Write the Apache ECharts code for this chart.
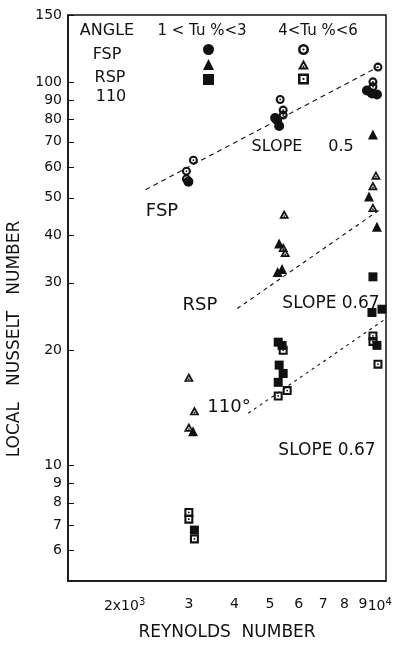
<!DOCTYPE html>
<html>
<head>
<meta charset="utf-8">
<script src="https://cdn.jsdelivr.net/npm/echarts@6/dist/echarts.min.js"></script>
<style>
html, body { margin: 0; padding: 0; background: #fff; }
#chart { width: 401px; height: 646px; }
</style>
</head>
<body>
<div id="chart"></div>
<script>
// Axis tick positions
const reTicks = [2000, 3000, 4000, 5000, 6000, 7000, 8000, 9000, 10000];
const nuTicks = [6, 7, 8, 9, 10, 20, 30, 40, 50, 60, 70, 80, 90, 100, 150];

// Local Nusselt number vs Reynolds number, [Re, Nu]
// 1 < Tu% < 3 (filled symbols)
const fspLow = [[2991, 55.1], [5170, 80.8], [5236, 79.8], [5302, 77.0], [9224, 95.3], [9519, 93.6], [9824, 93.0]];
const rspLow = [[3080, 12.3], [5300, 38.0], [5250, 32.0], [5400, 32.6], [9578, 73.1], [9341, 50.4], [9824, 42.0]];
const angLow = [[3107, 6.79], [5270, 21.0], [5400, 20.6], [5302, 18.3], [5438, 17.4], [5270, 16.5], [9578, 31.1], [9519, 25.1], [10139, 25.6], [9824, 20.6]];
// 4 < Tu% < 6 (open symbols with centre dot)
const fspHigh = [[3087, 62.7], [2954, 58.7], [2954, 56.0], [5336, 90.3], [5438, 84.7], [5438, 82.2], [9886, 109.7], [9578, 100.4], [9578, 97.5]];
const rspHigh = [[3000, 17.0], [3107, 13.9], [3000, 12.6], [5473, 45.3], [5438, 37.1], [5507, 36.0], [9761, 57.3], [9578, 53.8], [9578, 47.2]];
const angHigh = [[3000, 7.55], [3000, 7.25], [3107, 6.44], [5438, 20.0], [5270, 15.2], [5577, 15.7], [9578, 21.8], [9578, 21.1], [9886, 18.4]];

// Reference slope lines, end points [Re, Nu]
const fspSlope = [[2282, 52.5], [9886, 109.7]];
const rspSlope = [[4071, 25.7], [9947, 46.4]];
const angSlope = [[4363, 13.7], [10266, 24.0]];

const FONT = 'DejaVu Sans';
const INK = '#111';

// open markers with a centre dot (inner contour wound the other way to leave a hole)
const ringDot = 'path://M10,0A10,10,0,1,1,10,20A10,10,0,1,1,10,0ZM10,4.6A5.4,5.4,0,1,0,10,15.4A5.4,5.4,0,1,0,10,4.6ZM10,8A2,2,0,1,1,10,12A2,2,0,1,1,10,8Z';
const triDot = 'path://M10,0L20,18L0,18ZM10,7.4L5.9,14.6L14.1,14.6ZM10,10.9A1.7,1.7,0,1,1,10,14.3A1.7,1.7,0,1,1,10,10.9Z';
const sqDot = 'path://M0,0L20,0L20,20L0,20ZM4.6,4.6L4.6,15.4L15.4,15.4L15.4,4.6ZM10,8A2,2,0,1,1,10,12A2,2,0,1,1,10,8Z';

function scatter(name, data, symbol, size) {
  return {
    name, type: 'scatter', data, symbol, symbolSize: size, symbolKeepAspect: true,
    itemStyle: { color: INK, opacity: 1 }, silent: true, z: 3
  };
}
function slope(name, data, dash) {
  return {
    name, type: 'line', data, symbol: 'none', silent: true, z: 2,
    lineStyle: { color: INK, width: 1.1, type: dash }
  };
}

const chart = echarts.init(document.getElementById('chart'), null, { renderer: 'canvas' });

const txt = (text, x, y, size, extra) => Object.assign({
  type: 'text', x, y,
  style: { text, font: size + 'px "' + FONT + '"', fill: INK, align: 'center', verticalAlign: 'middle' }
}, extra || {});

chart.setOption({
  animation: false,
  backgroundColor: '#fff',
  grid: { left: 68, right: 15, top: 15, bottom: 54, show: true, borderColor: INK, borderWidth: 1.5, backgroundColor: 'transparent' },
  legend: [
    {
      orient: 'vertical', left: 203, top: 44, padding: 0, itemWidth: 11, itemHeight: 11, itemGap: 4,
      selectedMode: false, formatter: () => '',
      data: [{ name: 'FSP 1<Tu<3', icon: 'circle' }, { name: 'RSP 1<Tu<3', icon: 'triangle' }, { name: '110 1<Tu<3', icon: 'rect' }]
    },
    {
      orient: 'vertical', left: 298, top: 44, padding: 0, itemWidth: 11, itemHeight: 11, itemGap: 4,
      selectedMode: false, formatter: () => '',
      data: [{ name: 'FSP 4<Tu<6', icon: ringDot }, { name: 'RSP 4<Tu<6', icon: triDot }, { name: '110 4<Tu<6', icon: sqDot }]
    }
  ],
  xAxis: {
    type: 'log', logBase: 10, min: 1400, max: 10400,
    name: 'REYNOLDS  NUMBER', nameLocation: 'middle', nameGap: 43,
    nameTextStyle: { fontFamily: FONT, fontSize: 17, color: INK },
    axisLine: { show: true, lineStyle: { color: INK, width: 1.5 } },
    axisTick: { show: false },
    splitLine: { show: false },
    axisLabel: {
      customValues: reTicks, margin: 16, color: INK, fontFamily: FONT, fontSize: 14,
      formatter: v => {
        if (Math.abs(v - 2000) < 1) return '{n|2x10}{s|3}';
        if (Math.abs(v - 10000) < 1) return '{n|10}{s|4}';
        return '{n|' + Math.round(v / 1000) + '}';
      },
      rich: {
        n: { fontFamily: FONT, fontSize: 14, color: INK },
        s: { fontFamily: FONT, fontSize: 10, color: INK, verticalAlign: 'top', padding: [0, 0, 8, 0] }
      }
    }
  },
  yAxis: {
    type: 'log', logBase: 10, min: 5, max: 150,
    axisLine: { show: true, lineStyle: { color: INK, width: 1.5 } },
    axisTick: { show: true, customValues: nuTicks, inside: true, length: 6, lineStyle: { color: INK, width: 1 } },
    splitLine: { show: false },
    axisLabel: { customValues: nuTicks, margin: 6, color: INK, fontFamily: FONT, fontSize: 14 }
  },
  series: [
    slope('FSP slope', fspSlope, [5, 4]),
    slope('RSP slope', rspSlope, [4, 4]),
    slope('110 slope', angSlope, [3, 4]),
    scatter('FSP 1<Tu<3', fspLow, 'circle', 10),
    scatter('RSP 1<Tu<3', rspLow, 'triangle', 10),
    scatter('110 1<Tu<3', angLow, 'rect', 9),
    scatter('FSP 4<Tu<6', fspHigh, ringDot, 9),
    scatter('RSP 4<Tu<6', rspHigh, triDot, 10),
    scatter('110 4<Tu<6', angHigh, sqDot, 9)
  ],
  graphic: [
    txt('LOCAL   NUSSELT   NUMBER', 15, 339, 17, { rotation: Math.PI / 2 }),
    txt('ANGLE', 107, 31, 16),
    txt('1 < Tu %<3', 202, 31, 15),
    txt('4<Tu %<6', 318, 31, 15),
    txt('FSP', 107, 55, 16),
    txt('RSP', 110, 78, 16),
    txt('110', 111, 97, 16),
    txt('SLOPE', 277, 147, 16),
    txt('0.5', 341, 147, 16),
    txt('FSP', 162, 211, 18),
    txt('RSP', 200, 305, 18),
    txt('SLOPE 0.67', 331, 304, 17),
    txt('110°', 229, 407, 18),
    txt('SLOPE 0.67', 327, 451, 17)
  ]
});
</script>
</body>
</html>
